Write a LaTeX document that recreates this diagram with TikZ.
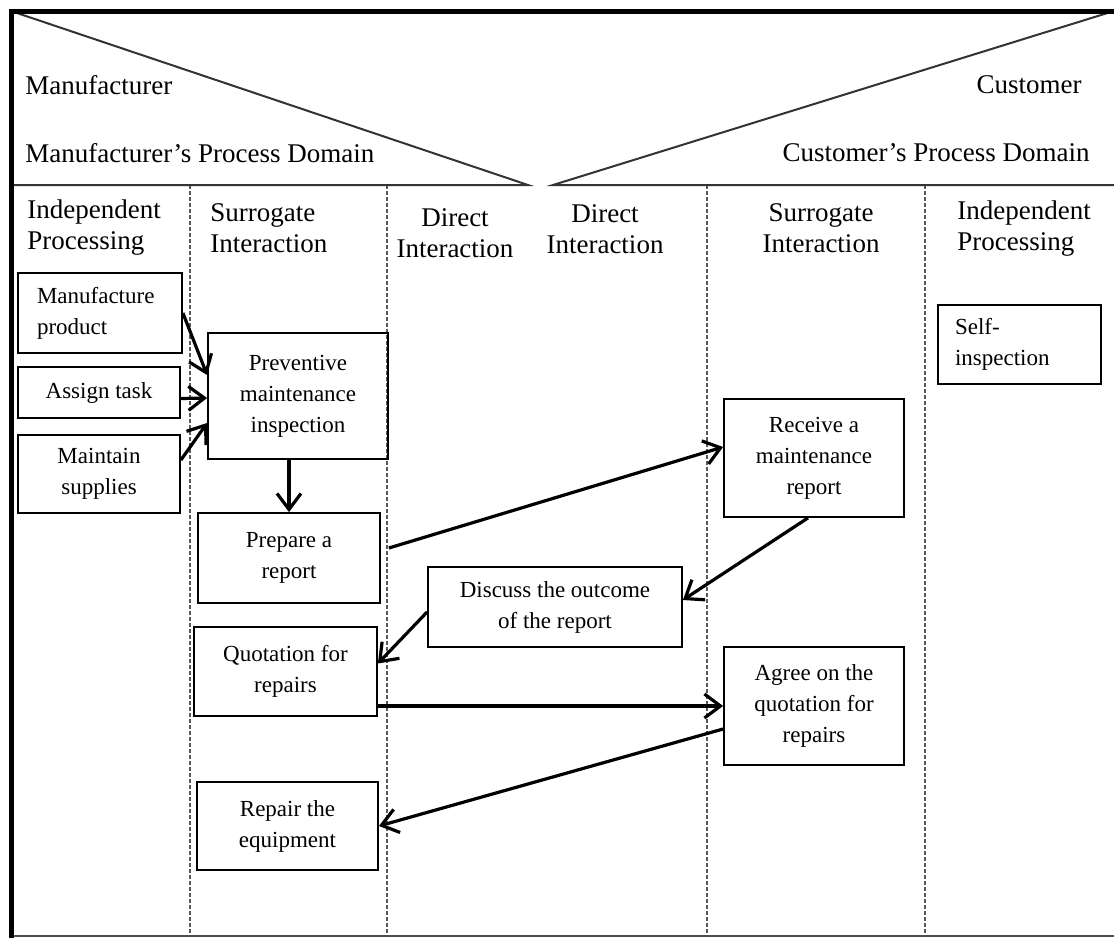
\documentclass[tikz,border=0pt]{standalone}
\usepackage{fontspec}
\setmainfont{Liberation Serif}
\usetikzlibrary{arrows.meta}

\begin{document}
\begin{tikzpicture}[x=0.5pt,y=-0.5pt,>={Straight Barb[length=8pt,width=12pt]},
  procbox/.style={draw,line width=0.9pt,align=center,inner sep=0pt,
    font=\fontsize{11.5}{15.5}\selectfont},
  lanehead/.style={inner sep=0pt,font=\fontsize{13.5}{15.5}\selectfont},
  lane/.style={gray!70!black,line width=0.6pt,dash pattern=on 2pt off 1pt},
  flow/.style={->,line width=1.6pt}]
\useasboundingbox (0,0) rectangle (1114,938);
% lane dividers
\foreach \lx in {190,387,707,925}
  \draw[lane] (\lx,185) -- (\lx,936);
% frame and domain header
\draw[gray!60!black,line width=0.8pt] (11,936) -- (1114,936);
\draw[line width=1pt,gray!40!black] (11,11) -- (528,185) -- (11,185);
\draw[line width=1pt,gray!40!black] (1114,11) -- (553,185) -- (1114,185);
\draw[line width=2.5pt] (11,938) -- (11,11) -- (1114,11);
\node[lanehead,anchor=west] (mfr) at (25,85) {Manufacturer};
\node[lanehead,anchor=west] (mfrdom) at (25,153) {Manufacturer’s Process Domain};
\node[lanehead,anchor=east] (cst) at (1082,85) {Customer};
\node[lanehead,anchor=east] (cstdom) at (1090,153) {Customer’s Process Domain};
% lane titles
\node[lanehead,anchor=west,align=left] (ipL) at (27,228) {Independent\\Processing};
\node[lanehead,anchor=west,align=left] (siL) at (210,228) {Surrogate\\Interaction};
\node[lanehead,align=center] (diL) at (455,233) {Direct\\Interaction};
\node[lanehead,align=center] (diR) at (605,229) {Direct\\Interaction};
\node[lanehead,align=center] (siR) at (821,228) {Surrogate\\Interaction};
\node[lanehead,anchor=west,align=left] (ipR) at (957,229) {Independent\\Processing};
% process boxes
\node[procbox,align=left,text width=63pt,minimum width=82pt,minimum height=40pt] (mfg) at (100,313) {Manufacture\\product};
\node[procbox,minimum width=81pt,minimum height=25.5pt] (assign) at (99,392.5) {Assign task};
\node[procbox,minimum width=81pt,minimum height=39pt] (supply) at (99,474) {Maintain\\supplies};
\node[procbox,minimum width=90pt,minimum height=63pt] (pmi) at (298,396) {Preventive\\maintenance\\inspection};
\node[procbox,minimum width=91pt,minimum height=45pt] (prep) at (289,558) {Prepare a\\report};
\node[procbox,minimum width=91.5pt,minimum height=44.5pt] (quote) at (285.5,671.5) {Quotation for\\repairs};
\node[procbox,minimum width=90.5pt,minimum height=44pt] (repair) at (287.5,826) {Repair the\\equipment};
\node[procbox,minimum width=127pt,minimum height=40pt] (discuss) at (555,607) {Discuss the outcome\\of the report};
\node[procbox,minimum width=90pt,minimum height=59pt] (receive) at (814,458) {Receive a\\maintenance\\report};
\node[procbox,minimum width=90pt,minimum height=59pt] (agree) at (814,706) {Agree on the\\quotation for\\repairs};
\node[procbox,align=left,text width=64.5pt,minimum width=81.5pt,minimum height=39.5pt] (self) at (1019.5,344.5) {Self-\\inspection};
% flows
\draw[flow] (mfg.east) -- ([yshift=10.5pt]pmi.west);
\draw[flow] ([yshift=-3pt]assign.east) -- ([yshift=-1pt]pmi.west);
\draw[flow] ([yshift=7pt]supply.east) -- ([yshift=-13.5pt]pmi.west);
\draw[flow] (prep.north |- pmi.south) -- (prep.north);
\draw[flow] ([xshift=4pt,yshift=5pt]prep.east) -- ([yshift=5.5pt]receive.west);
\draw[flow] ([xshift=-3pt]receive.south) -- ([yshift=3.5pt]discuss.east);
\draw[flow] ([yshift=-2.5pt]discuss.west) -- ([yshift=4pt]quote.east);
\draw[flow] (agree.west -| quote.east) -- (agree.west);
\draw[flow] ([yshift=-11.5pt]agree.west) -- (repair.east);
\end{tikzpicture}
\end{document}
